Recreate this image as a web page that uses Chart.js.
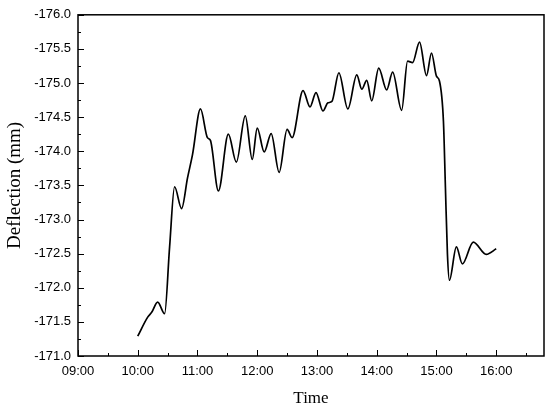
<!DOCTYPE html>
<html>
<head>
<meta charset="utf-8">
<script src="https://cdn.jsdelivr.net/npm/chart.js@4/dist/chart.umd.min.js"></script>
<style>
  html, body { margin: 0; padding: 0; background: #fff; }
  #wrap { width: 550px; height: 409px; position: relative; }
</style>
</head>
<body>
<div id="wrap"><canvas id="c" width="550" height="409"></canvas></div>
<script>
// ---- data ----
const times = ["10:00","10:10","10:14","10:20","10:27","10:32","10:37","10:44","10:50","10:55",
  "11:03","11:10","11:13","11:21","11:31","11:39","11:48","11:55","12:00","12:07",
  "12:14","12:22","12:30","12:35","12:46","12:53","12:59","13:06","13:11","13:15",
  "13:22","13:31","13:40","13:45","13:50","13:55","14:02","14:10","14:16","14:25",
  "14:31","14:36","14:43","14:50","14:55","15:00","15:03","15:07","15:09","15:11",
  "15:13","15:20","15:26","15:37","15:50","16:00"];
const deflection = [-171.29,-171.57,-171.64,-171.79,-171.62,-172.60,-173.48,-173.16,-173.61,-173.95,
  -174.62,-174.20,-174.16,-173.42,-174.25,-173.84,-174.52,-173.88,-174.34,-173.99,
  -174.26,-173.69,-174.32,-174.20,-174.89,-174.65,-174.86,-174.59,-174.71,-174.73,
  -175.15,-174.62,-175.12,-174.91,-175.04,-174.74,-175.22,-174.90,-175.16,-174.60,
  -175.32,-175.30,-175.60,-175.11,-175.44,-175.10,-175.03,-174.44,-173.47,-172.50,
  -172.11,-172.60,-172.35,-172.67,-172.49,-172.57];
const xTickLabels = ["09:00","10:00","11:00","12:00","13:00","14:00","15:00","16:00"];
const yTickLabels = ["-176.0","-175.5","-175.0","-174.5","-174.0","-173.5","-173.0","-172.5","-172.0","-171.5","-171.0"];

const toHours = s => { const [h, m] = s.split(":").map(Number); return h + m / 60; };
const xTicks = xTickLabels.map(toHours);
const yTicks = yTickLabels.map(Number);
const points = times.map((t, i) => ({ x: toHours(t), y: deflection[i] }));
const fmtTime = v => { const h = Math.floor(v + 1e-6); return String(h).padStart(2, "0") + ":00"; };

// inward major/minor ticks and frame
const frame = {
  id: "frame",
  afterDraw(chart) {
    const { ctx, chartArea: a, scales: { x, y } } = chart;
    ctx.save();
    ctx.strokeStyle = "#000";
    ctx.lineWidth = 1;
    ctx.beginPath();
    xTicks.forEach(v => { const px = Math.round(x.getPixelForValue(v)) + 0.5; ctx.moveTo(px, a.bottom); ctx.lineTo(px, a.bottom - 6); });
    for (let i = 0; i < xTicks.length; i++) {
      const v = xTicks[i] + 0.5; const px = Math.round(x.getPixelForValue(v)) + 0.5;
      if (px < a.right - 1) { ctx.moveTo(px, a.bottom); ctx.lineTo(px, a.bottom - 3); }
    }
    yTicks.forEach(v => { const py = Math.round(y.getPixelForValue(v)) + 0.5; ctx.moveTo(a.left, py); ctx.lineTo(a.left + 6, py); });
    for (let i = 0; i < yTicks.length - 1; i++) {
      const v = (yTicks[i] + yTicks[i + 1]) / 2; const py = Math.round(y.getPixelForValue(v)) + 0.5;
      ctx.moveTo(a.left, py); ctx.lineTo(a.left + 3, py);
    }
    ctx.stroke();
    ctx.lineWidth = 1.5;
    ctx.strokeRect(a.left, a.top, a.right - a.left, a.bottom - a.top);
    ctx.restore();
  }
};

new Chart(document.getElementById("c"), {
  type: "line",
  data: {
    datasets: [{
      data: points,
      borderColor: "#000",
      borderWidth: 1.7,
      pointRadius: 0,
      cubicInterpolationMode: "monotone",
      fill: false
    }]
  },
  options: {
    responsive: false,
    animation: false,
    devicePixelRatio: 1,
    layout: { padding: { top: 13, right: 6, left: 0, bottom: 0 } },
    plugins: { legend: { display: false }, tooltip: { enabled: false } },
    scales: {
      x: {
        type: "linear",
        min: 9, max: 16.8,
        afterBuildTicks: s => { s.ticks = xTicks.map(v => ({ value: v })); },
        afterFit: s => { s.height = 53; },
        grid: { display: false, drawTicks: false },
        border: { display: false },
        ticks: { callback: v => fmtTime(v), color: "#000", padding: 8, maxRotation: 0, autoSkip: false,
                 font: { family: "'Liberation Sans', Arial, sans-serif", size: 13 } },
        title: { display: true, text: "Time", color: "#000", padding: { top: 0, bottom: 0 },
                 font: { family: "'Liberation Serif', 'Times New Roman', serif", size: 17 } }
      },
      y: {
        type: "linear",
        min: -176, max: -171,
        reverse: true,
        afterBuildTicks: s => { s.ticks = yTicks.map(v => ({ value: v })); },
        afterFit: s => { s.width = 78; },
        grid: { display: false, drawTicks: false },
        border: { display: false },
        ticks: { callback: v => v.toFixed(1), color: "#000", padding: 7, autoSkip: false,
                 font: { family: "'Liberation Sans', Arial, sans-serif", size: 13 } },
        title: { display: true, text: "Deflection (mm)", color: "#000", padding: { top: 4, bottom: 0 },
                 font: { family: "'Liberation Serif', 'Times New Roman', serif", size: 19 } }
      }
    }
  },
  plugins: [frame]
});
</script>
</body>
</html>
